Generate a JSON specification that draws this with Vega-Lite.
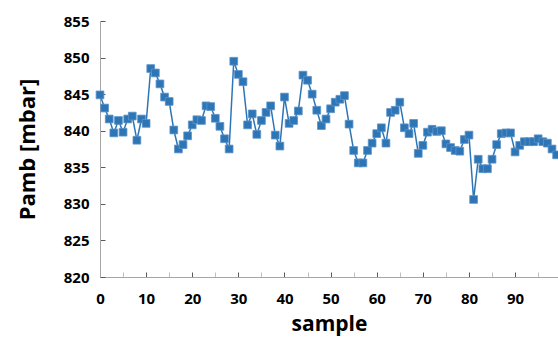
{
  "$schema": "https://vega.github.io/schema/vega-lite/v6.json",
  "width": 458,
  "height": 256,
  "autosize": {"type": "none"},
  "padding": {"left": 100, "top": 21, "right": 0, "bottom": 66},
  "background": "white",
  "config": {"view": {"stroke": null}, "font": "Open Sans"},
  "data": {"values": [
    {"s":0,"p":844.9},{"s":1,"p":843.1},{"s":2,"p":841.6},{"s":3,"p":839.7},{"s":4,"p":841.4},
    {"s":5,"p":839.8},{"s":6,"p":841.6},{"s":7,"p":842.0},{"s":8,"p":838.7},{"s":9,"p":841.6},
    {"s":10,"p":841.0},{"s":11,"p":848.5},{"s":12,"p":847.9},{"s":13,"p":846.4},{"s":14,"p":844.6},
    {"s":15,"p":844.0},{"s":16,"p":840.1},{"s":17,"p":837.5},{"s":18,"p":838.1},{"s":19,"p":839.3},
    {"s":20,"p":840.8},{"s":21,"p":841.5},{"s":22,"p":841.4},{"s":23,"p":843.4},{"s":24,"p":843.3},
    {"s":25,"p":841.7},{"s":26,"p":840.6},{"s":27,"p":838.9},{"s":28,"p":837.5},{"s":29,"p":849.5},
    {"s":30,"p":847.7},{"s":31,"p":846.7},{"s":32,"p":840.8},{"s":33,"p":842.3},{"s":34,"p":839.5},
    {"s":35,"p":841.4},{"s":36,"p":842.5},{"s":37,"p":843.4},{"s":38,"p":839.4},{"s":39,"p":837.9},
    {"s":40,"p":844.6},{"s":41,"p":841.0},{"s":42,"p":841.4},{"s":43,"p":842.7},{"s":44,"p":847.6},
    {"s":45,"p":846.9},{"s":46,"p":845.0},{"s":47,"p":842.8},{"s":48,"p":840.7},{"s":49,"p":841.6},
    {"s":50,"p":843.0},{"s":51,"p":843.9},{"s":52,"p":844.3},{"s":53,"p":844.8},{"s":54,"p":840.9},
    {"s":55,"p":837.3},{"s":56,"p":835.6},{"s":57,"p":835.6},{"s":58,"p":837.3},{"s":59,"p":838.3},
    {"s":60,"p":839.6},{"s":61,"p":840.4},{"s":62,"p":838.3},{"s":63,"p":842.5},{"s":64,"p":842.8},
    {"s":65,"p":843.9},{"s":66,"p":840.4},{"s":67,"p":839.6},{"s":68,"p":841.0},{"s":69,"p":836.9},
    {"s":70,"p":838.0},{"s":71,"p":839.8},{"s":72,"p":840.2},{"s":73,"p":839.9},{"s":74,"p":840.0},
    {"s":75,"p":838.2},{"s":76,"p":837.7},{"s":77,"p":837.3},{"s":78,"p":837.2},{"s":79,"p":838.8},
    {"s":80,"p":839.4},{"s":81,"p":830.6},{"s":82,"p":836.1},{"s":83,"p":834.8},{"s":84,"p":834.8},
    {"s":85,"p":836.1},{"s":86,"p":838.1},{"s":87,"p":839.6},{"s":88,"p":839.7},{"s":89,"p":839.7},
    {"s":90,"p":837.1},{"s":91,"p":838.0},{"s":92,"p":838.5},{"s":93,"p":838.5},{"s":94,"p":838.5},
    {"s":95,"p":838.9},{"s":96,"p":838.5},{"s":97,"p":838.3},{"s":98,"p":837.5},{"s":99,"p":836.7}
  ]},
  "encoding": {
    "x": {
      "field": "s", "type": "quantitative",
      "scale": {"domain": [0, 99.3], "nice": false, "zero": false},
      "axis": {
        "title": "sample",
        "values": [0,5,10,15,20,25,30,35,40,45,50,55,60,65,70,75,80,85,90,95],
        "labelExpr": "datum.value % 10 === 0 ? datum.label : ''",
        "grid": false,
        "domainColor": "#a6a6a6",
        "tickColor": {"condition": {"test": "datum.value % 10 === 0", "value": "#595959"}, "value": "#bfbfbf"},
        "tickSize": -5,
        "labelFont": "Open Sans", "labelFontWeight": "bold", "labelFontSize": 15, "labelColor": "black",
        "labelPadding": 19,
        "labelFlush": false,
        "titleFont": "Open Sans", "titleFontWeight": "bold", "titleFontSize": 21, "titleColor": "black",
        "titlePadding": 7
      }
    },
    "y": {
      "field": "p", "type": "quantitative",
      "scale": {"domain": [820, 855], "nice": false, "zero": false},
      "axis": {
        "title": "Pamb [mbar]",
        "values": [820,825,830,835,840,845,850,855],
        "grid": false,
        "domainColor": "#a6a6a6",
        "tickColor": "#595959",
        "tickSize": -5,
        "labelFont": "Open Sans", "labelFontWeight": "bold", "labelFontSize": 15, "labelColor": "black",
        "labelPadding": 16,
        "titleFont": "Open Sans", "titleFontWeight": "bold", "titleFontSize": 22, "titleColor": "black",
        "titlePadding": 24
      }
    }
  },
  "layer": [
    {"mark": {"type": "line", "color": "#2e75b6", "strokeWidth": 1.5}},
    {"mark": {"type": "point", "shape": "square", "filled": true, "size": 60, "color": "#2e75b6", "opacity": 1, "stroke": "#5b93c9", "strokeWidth": 0.8}}
  ]
}
